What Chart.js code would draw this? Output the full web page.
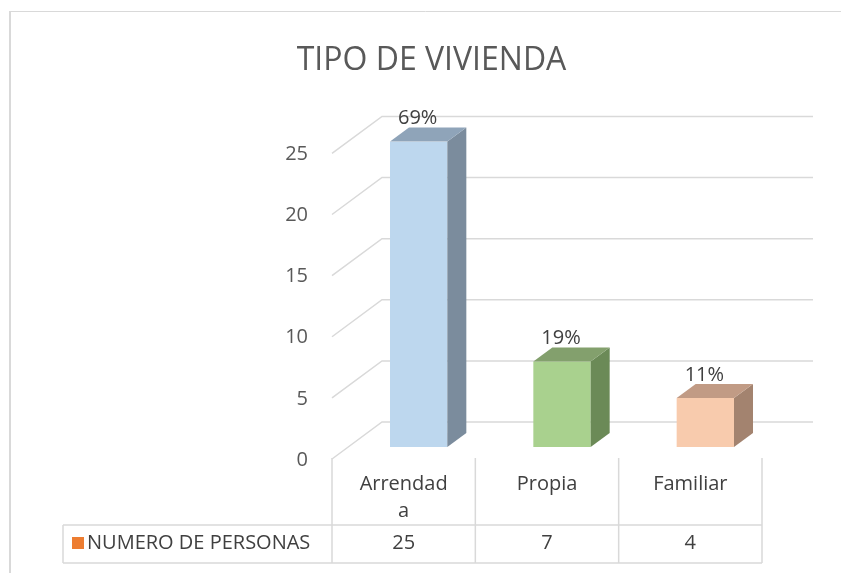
<!DOCTYPE html>
<html lang="es">
<head>
<meta charset="utf-8">
<title>Tipo de vivienda</title>
<script src="https://cdn.jsdelivr.net/npm/chart.js@4"></script>
<style>
  html, body { margin: 0; padding: 0; background: #fff; }
  canvas { display: block; }
</style>
</head>
<body>
<canvas id="graficaVivienda" width="841" height="573"></canvas>
<script>
// Datos de la gráfica
const categorias = ['Arrendada', 'Propia', 'Familiar'];
const etiquetasTabla = [['Arrendad', 'a'], ['Propia'], ['Familiar']];
const numeroPersonas = [25, 7, 4];
const porcentajes = ['69%', '19%', '11%'];
const nombreSerie = 'NUMERO DE PERSONAS';
const ticksY = [0, 5, 10, 15, 20, 25];

// Colores de cada cara de las barras 3D
const coloresFrente = ['#BDD7EE', '#A9D18E', '#F8CBAD'];
const coloresLado = ['#7B8C9D', '#6B8A57', '#A3836F'];
const coloresArriba = ['#8FA4B9', '#83A06D', '#C19B85'];

const fuente = '"Open Sans", sans-serif';
const gris = '#D9D9D9';
const profX = 19, profY = -14; // profundidad de las barras

// Pared del fondo, líneas diagonales, caras 3D y tabla de datos
const plugin3D = {
  id: 'efecto3D',
  beforeDraw(chart) {
    const ctx = chart.ctx;
    ctx.save();
    ctx.strokeStyle = gris;
    ctx.lineWidth = 2;
    ctx.beginPath();
    ctx.moveTo(10, 573);
    ctx.lineTo(10, 11);
    ctx.stroke();
    ctx.lineWidth = 1;
    ctx.beginPath();
    ctx.moveTo(10, 11.5);
    ctx.lineTo(841, 11.5);
    ctx.stroke();
    ctx.restore();
  },
  beforeDatasetsDraw(chart) {
    const ctx = chart.ctx;
    const area = chart.chartArea;
    const y = chart.scales.y;
    const xFrente = area.left - 15;
    const xFondo = area.left + 35;
    const xFin = area.right + 36;
    ctx.save();
    ctx.strokeStyle = gris;
    ctx.lineWidth = 1.5;
    ticksY.forEach(v => {
      const py = y.getPixelForValue(v);
      ctx.beginPath();
      ctx.moveTo(xFrente, py + 12);
      ctx.lineTo(xFondo, py - 25);
      ctx.lineTo(xFin, py - 25);
      ctx.stroke();
    });
    ctx.restore();
  },
  afterDatasetsDraw(chart) {
    const ctx = chart.ctx;
    const area = chart.chartArea;
    const meta = chart.getDatasetMeta(0);
    ctx.save();
    meta.data.forEach((barra, i) => {
      const p = barra.getProps(['x', 'y', 'base', 'width'], true);
      const x0 = p.x - p.width / 2;
      const x1 = p.x + p.width / 2;
      // cara lateral
      ctx.fillStyle = coloresLado[i];
      ctx.beginPath();
      ctx.moveTo(x1, p.y);
      ctx.lineTo(x1 + profX, p.y + profY);
      ctx.lineTo(x1 + profX, p.base + profY);
      ctx.lineTo(x1, p.base);
      ctx.closePath();
      ctx.fill();
      // cara superior
      ctx.fillStyle = coloresArriba[i];
      ctx.beginPath();
      ctx.moveTo(x0, p.y);
      ctx.lineTo(x1, p.y);
      ctx.lineTo(x1 + profX, p.y + profY);
      ctx.lineTo(x0 + profX, p.y + profY);
      ctx.closePath();
      ctx.fill();
      // porcentaje
      ctx.fillStyle = '#404040';
      ctx.font = '20px ' + fuente;
      ctx.textAlign = 'center';
      ctx.textBaseline = 'middle';
      ctx.fillText(porcentajes[i], p.x - 1, p.y - 23);
    });

    // Tabla de datos
    const x = chart.scales.x;
    const anchoCol = (area.right - area.left) / categorias.length;
    const izq = area.left - 15;
    const der = izq + anchoCol * categorias.length;
    const base = area.bottom;
    const arriba = base + 11;
    const medio = base + 78;
    const abajo = base + 116;
    const izqLeyenda = izq - 269;

    ctx.strokeStyle = gris;
    ctx.lineWidth = 1.5;
    ctx.beginPath();
    for (let i = 0; i <= categorias.length; i++) {
      const cx = izq + anchoCol * i;
      ctx.moveTo(cx, arriba);
      ctx.lineTo(cx, abajo);
    }
    ctx.moveTo(izqLeyenda, medio);
    ctx.lineTo(der, medio);
    ctx.moveTo(izqLeyenda, abajo);
    ctx.lineTo(der, abajo);
    ctx.moveTo(izqLeyenda, medio);
    ctx.lineTo(izqLeyenda, abajo);
    ctx.stroke();

    ctx.font = '20px ' + fuente;
    ctx.fillStyle = '#404040';
    ctx.textAlign = 'center';
    ctx.textBaseline = 'alphabetic';
    categorias.forEach((c, i) => {
      const cx = x.getPixelForValue(i) - 15;
      etiquetasTabla[i].forEach((linea, j) => {
        ctx.fillText(linea, cx, base + 43 + j * 27);
      });
      ctx.fillText(String(numeroPersonas[i]), cx, base + 102);
    });

    // Leyenda dentro de la tabla
    ctx.fillStyle = '#ED7D31';
    ctx.fillRect(izqLeyenda + 9, base + 90, 12, 12);
    ctx.fillStyle = '#404040';
    ctx.textAlign = 'left';
    ctx.fillText(nombreSerie, izqLeyenda + 24, base + 102);
    ctx.restore();
  }
};

function crearGraficaVivienda() {
  const ctx = document.getElementById('graficaVivienda');

  new Chart(ctx, {
    type: 'bar',
    data: {
      labels: categorias,
      datasets: [{
        label: nombreSerie,
        data: numeroPersonas,
        backgroundColor: coloresFrente,
        borderWidth: 0,
        barPercentage: 0.4,
        categoryPercentage: 1.0
      }]
    },
    options: {
      responsive: false,
      animation: false,
      layout: {
        padding: { top: 11, left: 86, right: 64, bottom: 126 }
      },
      plugins: {
        legend: { display: false },
        tooltip: { enabled: false },
        title: {
          display: true,
          text: 'TIPO DE VIVIENDA',
          color: '#595959',
          font: { family: fuente, size: 32, weight: 'normal' },
          padding: { top: 31, bottom: 61 }
        }
      },
      scales: {
        x: {
          display: false
        },
        y: {
          min: 0,
          max: 25,
          afterFit: s => { s.width = 261; },
          afterBuildTicks: s => { s.ticks = ticksY.map(v => ({ value: v })); },
          grid: { display: false, drawTicks: false },
          border: { display: false },
          ticks: {
            color: '#595959',
            padding: 39,
            labelOffset: 13,
            font: { family: fuente, size: 20 }
          }
        }
      }
    },
    plugins: [plugin3D]
  });
}

document.addEventListener('DOMContentLoaded', crearGraficaVivienda);
</script>
</body>
</html>
